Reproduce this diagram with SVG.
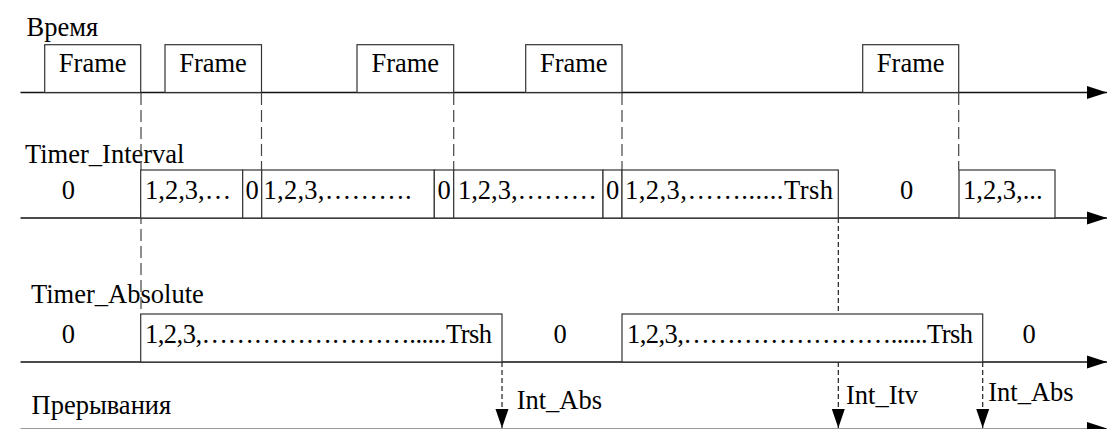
<svg xmlns="http://www.w3.org/2000/svg" width="1109" height="429" viewBox="0 0 1109 429">
<style>
text{font-family:"Liberation Serif","Times New Roman",serif;font-size:26.5px;fill:#000}
.mid{text-anchor:middle}
.box{fill:#fff;stroke:#333;stroke-width:1.2}
.axis{stroke:#111;stroke-width:1.6;fill:none}
.guide{stroke:#444;stroke-width:1.2;stroke-dasharray:12 5;fill:none}
.irq{stroke:#222;stroke-width:1.2;stroke-dasharray:5 3;fill:none}
</style>
<defs>
<marker id="axArrow" markerUnits="userSpaceOnUse" markerWidth="22" markerHeight="14" refX="20" refY="7" orient="auto">
<path d="M0,0.5 L20,7 L0,13.5 Z" fill="#000"/>
</marker>
<marker id="downArrow" markerUnits="userSpaceOnUse" markerWidth="20" markerHeight="14" refX="19" refY="6.5" orient="auto">
<path d="M0,0 L19,6.5 L0,13 Z" fill="#000"/>
</marker>
</defs>
<rect width="1109" height="429" fill="#fff"/>

<g id="labels">
<text x="26.5" y="36">Время</text>
<text x="25" y="162.5">Timer_Interval</text>
<text x="31" y="303">Timer_Absolute</text>
<text x="31.5" y="413.5">Прерывания</text>
</g>

<g id="connectors">
<line class="axis" x1="20.5" y1="92.5" x2="1107" y2="92.5" marker-end="url(#axArrow)"/>
<line class="axis" x1="20.5" y1="218" x2="1107" y2="218" marker-end="url(#axArrow)"/>
<line class="axis" x1="20.5" y1="362" x2="1107" y2="362" marker-end="url(#axArrow)"/>
<line x1="20.5" y1="428.5" x2="1107" y2="428.5" stroke="#999" stroke-width="1.2" marker-end="url(#axArrow)"/>
<line class="guide" x1="141" y1="93" x2="141" y2="314"/>
<line class="guide" x1="261.5" y1="93" x2="261.5" y2="170"/>
<line class="guide" x1="453.7" y1="93" x2="453.7" y2="170"/>
<line class="guide" x1="622" y1="93" x2="622" y2="170"/>
<line class="guide" x1="958.7" y1="93" x2="958.7" y2="170"/>
<line class="irq" x1="502" y1="362" x2="502" y2="428" marker-end="url(#downArrow)"/>
<line class="irq" x1="838.3" y1="218" x2="838.3" y2="428" marker-end="url(#downArrow)"/>
<line class="irq" x1="982.7" y1="362" x2="982.7" y2="428" marker-end="url(#downArrow)"/>
</g>

<g id="frame1"><rect class="box" x="44.7" y="44.7" width="96" height="47.8"/><text class="mid" x="92.7" y="71.7">Frame</text></g>
<g id="frame2"><rect class="box" x="165" y="44.7" width="96.5" height="47.8"/><text class="mid" x="213" y="71.7">Frame</text></g>
<g id="frame3"><rect class="box" x="357" y="44.7" width="96.7" height="47.8"/><text class="mid" x="405.3" y="71.7">Frame</text></g>
<g id="frame4"><rect class="box" x="525.7" y="44.7" width="96.3" height="47.8"/><text class="mid" x="573.8" y="71.7">Frame</text></g>
<g id="frame5"><rect class="box" x="862.7" y="44.7" width="96" height="47.8"/><text class="mid" x="910.7" y="71.7">Frame</text></g>

<g id="itv0"><text class="mid" x="68.3" y="198.5">0</text></g>
<g id="itv1"><rect class="box" x="140.7" y="170" width="102" height="48"/><text x="145" y="198.5">1,2,3,…</text></g>
<g id="itv2"><rect class="box" x="242.7" y="170" width="19" height="48"/><text class="mid" x="252.2" y="198.5">0</text></g>
<g id="itv3"><rect class="box" x="261.7" y="170" width="172.6" height="48"/><text x="263.5" y="198.5" textLength="148" lengthAdjust="spacing">1,2,3,……….</text></g>
<g id="itv4"><rect class="box" x="434.3" y="170" width="19.4" height="48"/><text class="mid" x="444" y="198.5">0</text></g>
<g id="itv5"><rect class="box" x="453.7" y="170" width="149.3" height="48"/><text x="458" y="198.5" textLength="139" lengthAdjust="spacing">1,2,3,………</text></g>
<g id="itv6"><rect class="box" x="603" y="170" width="19" height="48"/><text class="mid" x="612.5" y="198.5">0</text></g>
<g id="itv7"><rect class="box" x="622" y="170" width="216.3" height="48"/><text x="625" y="198.5" textLength="208" lengthAdjust="spacing">1,2,3,……......Trsh</text></g>
<g id="itv8"><text class="mid" x="906.7" y="198.5">0</text></g>
<g id="itv9"><rect class="box" x="959" y="170" width="96" height="48"/><text x="963" y="198.5">1,2,3,...</text></g>

<g id="abs0"><text class="mid" x="68.3" y="343">0</text></g>
<g id="abs1"><rect class="box" x="140.7" y="314" width="361.3" height="48"/><text x="145" y="343" textLength="347" lengthAdjust="spacing">1,2,3,……………………......Trsh</text></g>
<g id="abs2"><text class="mid" x="560" y="343">0</text></g>
<g id="abs3"><rect class="box" x="622" y="314" width="360.7" height="48"/><text x="627" y="343" textLength="346" lengthAdjust="spacing">1,2,3,……………………......Trsh</text></g>
<g id="abs4"><text class="mid" x="1029" y="343">0</text></g>

<g id="irq1"><text x="516.7" y="409">Int_Abs</text></g>
<g id="irq2"><text x="846" y="403.5">Int_Itv</text></g>
<g id="irq3"><text x="988.3" y="401">Int_Abs</text></g>
</svg>
